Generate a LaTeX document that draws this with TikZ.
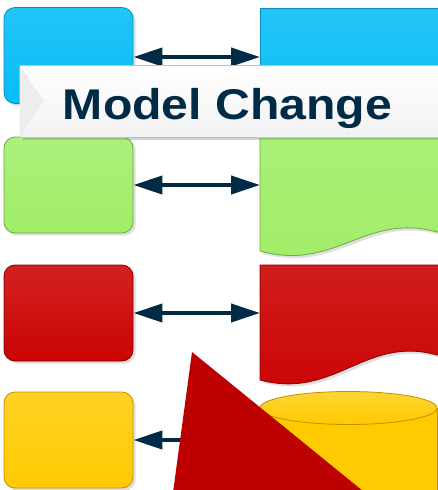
\documentclass[tikz,border=0pt]{standalone}
\usepackage{fontspec}
\setmainfont{Liberation Sans}
\usepackage{graphicx}
\usetikzlibrary{arrows.meta,shadows}
\definecolor{cblue}{HTML}{05BDF6}
\definecolor{cblueD}{HTML}{0A8CBE}
\definecolor{cgreen}{HTML}{A0EE68}
\definecolor{cgreenD}{HTML}{6DAA45}
\definecolor{cred}{HTML}{CC0303}
\definecolor{credD}{HTML}{8A0000}
\definecolor{cyel}{HTML}{FFCA00}
\definecolor{cyelD}{HTML}{C08F00}
\definecolor{navy}{HTML}{002B47}
\definecolor{tri}{HTML}{BD0000}
\begin{document}
\begin{tikzpicture}[x=1pt,y=-1pt,
  lbox/.style={rounded corners=11pt, minimum width=129pt, minimum height=96pt,
    inner sep=0pt, line width=0.8pt, drop shadow={opacity=0.25}},
  rshape/.style={line width=0.8pt, drop shadow={opacity=0.25}},
  link/.style={draw=navy, line width=4pt,
    {Triangle[length=29pt,width=18pt]}-{Triangle[length=29pt,width=18pt]}}]
\useasboundingbox (0,0) rectangle (437,490);
% left boxes
\node[lbox, draw=cblueD, top color=cblue!88!white, bottom color=cblue] (b1) at (68.5,55.5) {};
\node[lbox, draw=cgreenD, top color=cgreen!88!white, bottom color=cgreen] (b2) at (68.5,185) {};
\node[lbox, draw=credD, top color=cred!88!white, bottom color=cred] (b3) at (68.5,313) {};
\node[lbox, draw=cyelD, top color=cyel!85!white, bottom color=cyel] (b4) at (68.5,440) {};
% right shapes
\path[rshape, draw=cblueD, top color=cblue!88!white, bottom color=cblue] (260,8) rectangle (440,140);
\path[rshape, draw=cgreenD, top color=cgreen!90!white, bottom color=cgreen]
  (260,137) -- (440,137) -- (440,232) -- (437,232)
  .. controls (365,212) and (335,272) .. (260,251) -- cycle;
\path[rshape, draw=credD, top color=cred!90!white, bottom color=cred]
  (260,265) -- (440,265) -- (440,355) -- (437,355)
  .. controls (365,335) and (335,400) .. (260,380) -- cycle;
\path[rshape, draw=cyelD, fill=cyel] (260,408) -- (260,500) -- (437,500) -- (437,408) -- cycle;
\path[draw=cyelD, line width=0.8pt, top color=cyel!80!white, bottom color=cyel]
  (348.5,408) ellipse [x radius=88.5, y radius=16.5];
\coordinate (r1) at (260,57);
\coordinate (r2) at (260,185);
\coordinate (r3) at (260,313);
\coordinate (r4) at (260,440);
% connectors
\draw[link] (b1.east |- r1) -- (r1);
\draw[link] (b2.east) -- (r2);
\draw[link] (b3.east) -- (r3);
\draw[link] (b4.east) -- (r4);
% banner
\node[draw=black!25, line width=0.6pt, top color=white, bottom color=black!5,
  minimum width=420pt, minimum height=72pt, inner sep=0pt,
  drop shadow={opacity=0.35}] (ban) at (230,101.5) {};
\fill[black!7] (ban.north west) -- ++(24,35.5) -- (ban.south west) -- cycle;
\node[anchor=base, text=navy, inner sep=0pt] (title) at (227.5,119)
  {\scalebox{1.12}[1]{\fontsize{43}{50}\selectfont\bfseries Model Change}};
% red triangle
\fill[tri] (192,352) -- (172,500) -- (374,500) -- cycle;
\end{tikzpicture}
\end{document}
